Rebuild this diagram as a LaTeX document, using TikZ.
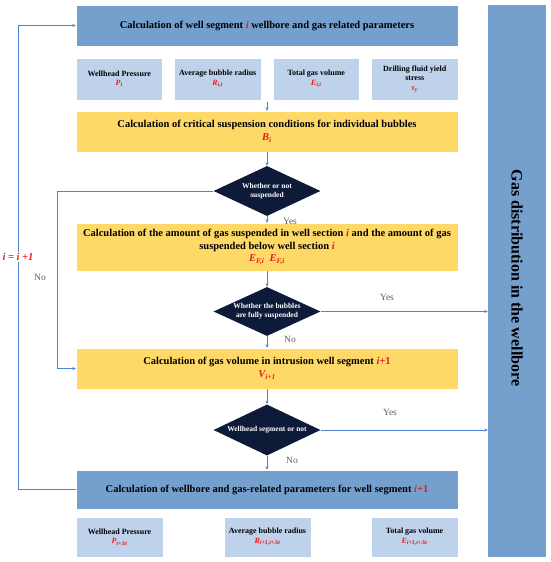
\documentclass[tikz,border=0pt]{standalone}
\usepackage{fontspec}
\setmainfont{Liberation Serif}
\usetikzlibrary{shapes.geometric,arrows.meta}
\definecolor{bluedark}{RGB}{117,160,206}
\definecolor{bluelight}{RGB}{190,210,235}
\definecolor{yel}{RGB}{255,217,104}
\definecolor{navy}{RGB}{14,27,56}
\definecolor{linec}{RGB}{84,128,212}
\definecolor{labgray}{RGB}{95,95,95}
\definecolor{redv}{RGB}{235,25,25}
\newcommand{\rv}[1]{{\color{redv}\bfseries\itshape #1}}
\newcommand{\rsub}[2]{{\color{redv}\bfseries\itshape #1\textsubscript{#2}}}
\begin{document}
\begin{tikzpicture}[x=1pt,y=-1pt,
  bigbox/.style={fill=bluedark,draw=white,line width=0.4pt,minimum width=382pt,inner sep=0pt,align=center,font=\fontsize{10.5}{12}\selectfont\bfseries},
  smallbox/.style={fill=bluelight,draw=white,line width=0.4pt,minimum width=86.5pt,minimum height=42pt,inner sep=0pt,align=center,font=\fontsize{8}{9.5}\selectfont\bfseries},
  yelbox/.style={fill=yel,draw=white,line width=0.4pt,minimum width=382pt,inner sep=0pt,align=center,font=\fontsize{10.5}{13}\selectfont\bfseries},
  decision/.style={diamond,aspect=2.14,fill=navy,text=white,minimum width=107pt,inner sep=-1pt,align=center,font=\fontsize{7.5}{9}\selectfont\bfseries},
  conn/.style={draw=linec,line width=0.6pt,-{Stealth[length=3.5pt,width=3pt]}},
  lab/.style={text=labgray,font=\fontsize{9.5}{11}\selectfont,inner sep=0pt}
]
\useasboundingbox (0,0) rectangle (550,562);

% right column
\node[fill=bluedark,minimum width=58pt,minimum height=552pt,inner sep=0pt] (col) at (517,281) {};
\node[rotate=-90,font=\fontsize{16}{18}\selectfont\bfseries] (coltext) at (517,278) {Gas distribution in the wellbore};

% top box
\node[bigbox,minimum height=41pt] (top) at (267,25.5) {Calculation of well segment \rv{i} wellbore and gas related parameters};
\node[smallbox] (p1) at (119.25,79) {Wellhead Pressure\\\rsub{P}{t}};
\node[smallbox] (p2) at (217.75,79) {Average bubble radius\\\rsub{R}{i,t}};
\node[smallbox] (p3) at (316.25,79) {Total gas volume\\\rsub{E}{i,t}};
\node[smallbox] (p4) at (414.75,79) {Drilling fluid yield\\stress\\\rsub{τ}{y}};

\node[yelbox,minimum height=41pt] (y1) at (267,131.5) {Calculation of critical suspension conditions for individual bubbles\\\rsub{B}{i}};
\node[decision,minimum height=50pt] (d1) at (267,191) {Whether or not\\suspended};
\node[yelbox,minimum height=48pt,font=\fontsize{10.5}{12.5}\selectfont\bfseries] (y2) at (267,247) {Calculation of the amount of gas suspended in well section \rv{i} and the amount of gas\\suspended below well section \rv{i}\\\rsub{E}{F,i}\ \ \rsub{E}{F,i}};
\node[decision,minimum height=49pt] (d2) at (267,311.5) {Whether the bubbles\\are fully suspended};
\node[yelbox,minimum height=41pt] (y3) at (267,368.5) {Calculation of gas volume in intrusion well segment \rv{i}{\color{redv}+1}\\\rsub{V}{i+1}};
\node[decision,minimum height=51pt] (d3) at (267,430) {Wellhead segment or not};
\node[bigbox,minimum height=39pt] (bot) at (267,489.5) {Calculation of wellbore and gas-related parameters for well segment \rv{i}{\color{redv}+1}};
\node[smallbox,minimum height=40pt] (q1) at (119.5,537) {Wellhead Pressure\\\rsub{P}{t+Δt}};
\node[smallbox,minimum height=40pt] (q2) at (267.5,537) {Average bubble radius\\\rsub{R}{i+1,t+Δt}};
\node[smallbox,minimum height=40pt] (q3) at (414.5,537) {Total gas volume\\\rsub{E}{i+1,t+Δt}};

% connectors
\coordinate (r1) at (267,102);
\draw[conn] (r1) -- (y1.north);
\draw[conn] (y1.south) -- (d1.north);
\draw[conn] (d1.south) -- (y2.north);
\draw[conn] (y2.south) -- (d2.north);
\draw[conn] (d2.south) -- (y3.north);
\draw[conn] (y3.south) -- (d3.north);
\draw[conn] (d3.south) -- (bot.north);
\draw[conn] (d2.east) -- (col.west |- d2.east);
\draw[conn] (d3.east) -- (col.west |- d3.east);
\coordinate (c1) at (57,191);
\draw[conn] (d1.west) -- (c1) |- (y3.west);
\coordinate (c2) at (18,489.5);
\draw[conn] (bot.west) -- (c2) |- (top.west);

% labels
\node[lab] (l1) at (290,221) {Yes};
\node[lab] (l2) at (40,277) {No};
\node[lab] (l3) at (387,297) {Yes};
\node[lab] (l4) at (290,339) {No};
\node[lab] (l5) at (390,412) {Yes};
\node[lab] (l6) at (292,460) {No};
\node[fill=white,inner sep=1pt,font=\fontsize{10.5}{12}\selectfont] (inc) at (18,257) {\rv{i = i +1}};
\end{tikzpicture}
\end{document}
